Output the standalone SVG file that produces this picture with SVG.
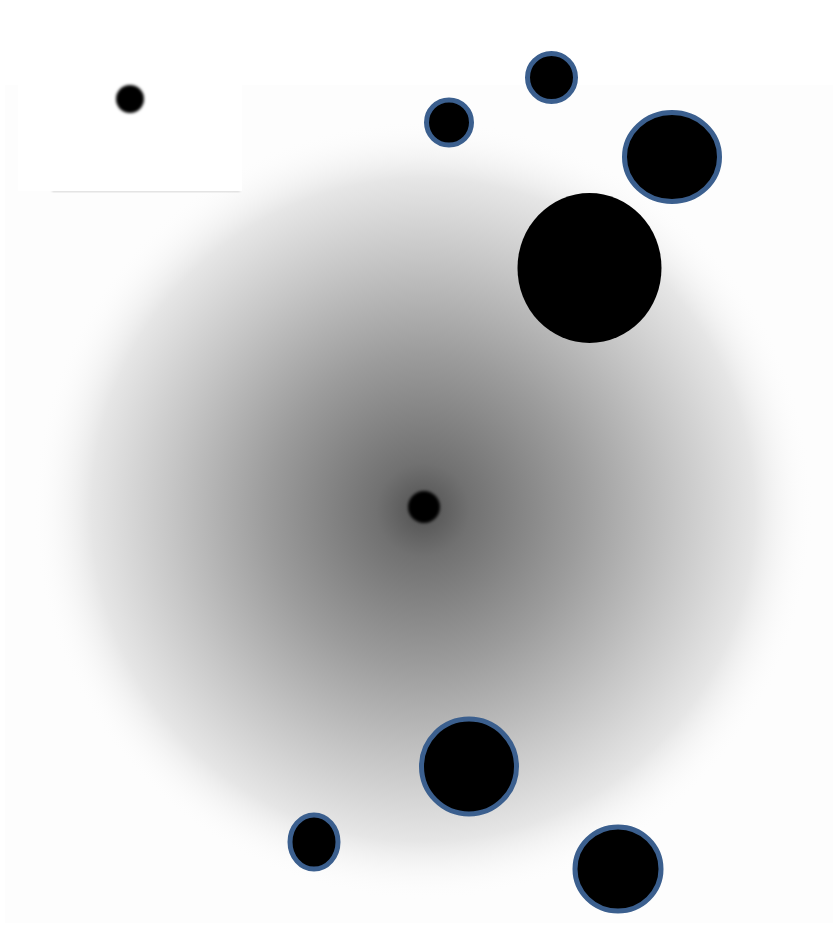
<svg xmlns="http://www.w3.org/2000/svg" width="837" height="928" viewBox="0 0 837 928">
  <defs>
    <radialGradient id="glow" cx="423" cy="510" r="390" gradientUnits="userSpaceOnUse">
      <stop offset="0" stop-color="#505050"/>
      <stop offset="0.12" stop-color="#717171"/>
      <stop offset="0.4" stop-color="#9c9c9c"/>
      <stop offset="0.65" stop-color="#c6c6c6"/>
      <stop offset="0.85" stop-color="#e6e6e6"/>
      <stop offset="1" stop-color="#fdfdfd" stop-opacity="0"/>
    </radialGradient>
    <filter id="soft" x="-50%" y="-50%" width="200%" height="200%">
      <feGaussianBlur stdDeviation="1.5"/>
    </filter>
    <filter id="shadow" x="-10%" y="-10%" width="120%" height="130%">
      <feGaussianBlur stdDeviation="1"/>
    </filter>
  </defs>
  <style>
    .node { fill: #000; stroke: #3b5f8e; stroke-width: 5; }
    .plain { fill: #000; }
  </style>
  <rect x="0" y="0" width="837" height="928" fill="#ffffff"/>
  <rect x="5" y="85" width="828" height="838" fill="#fdfdfd"/>
  <g id="glow-area">
    <circle cx="423" cy="510" r="390" fill="url(#glow)"/>
  </g>
  <g id="inset">
    <rect x="52" y="189" width="188" height="3" fill="#d8d8d8" filter="url(#shadow)"/>
    <rect x="18" y="8" width="224" height="183" fill="#ffffff"/>
    <circle cx="130" cy="99" r="14" class="plain" filter="url(#soft)"/>
  </g>
  <g id="center-dot">
    <circle cx="424" cy="507" r="16" class="plain" filter="url(#soft)"/>
  </g>
  <g id="n1"><circle cx="449" cy="122.5" r="22.5" class="node"/></g>
  <g id="n2"><circle cx="551.5" cy="77.5" r="24" class="node"/></g>
  <g id="n3"><ellipse cx="672" cy="157" rx="47.5" ry="44.5" class="node"/></g>
  <g id="n4"><ellipse cx="589.5" cy="268" rx="72" ry="75" class="plain"/></g>
  <g id="n5"><circle cx="469" cy="766.5" r="47.5" class="node"/></g>
  <g id="n6"><ellipse cx="314" cy="842" rx="24" ry="27" class="node"/></g>
  <g id="n7"><ellipse cx="618" cy="869" rx="43" ry="42" class="node"/></g>
  <g id="connectors"/>
</svg>
